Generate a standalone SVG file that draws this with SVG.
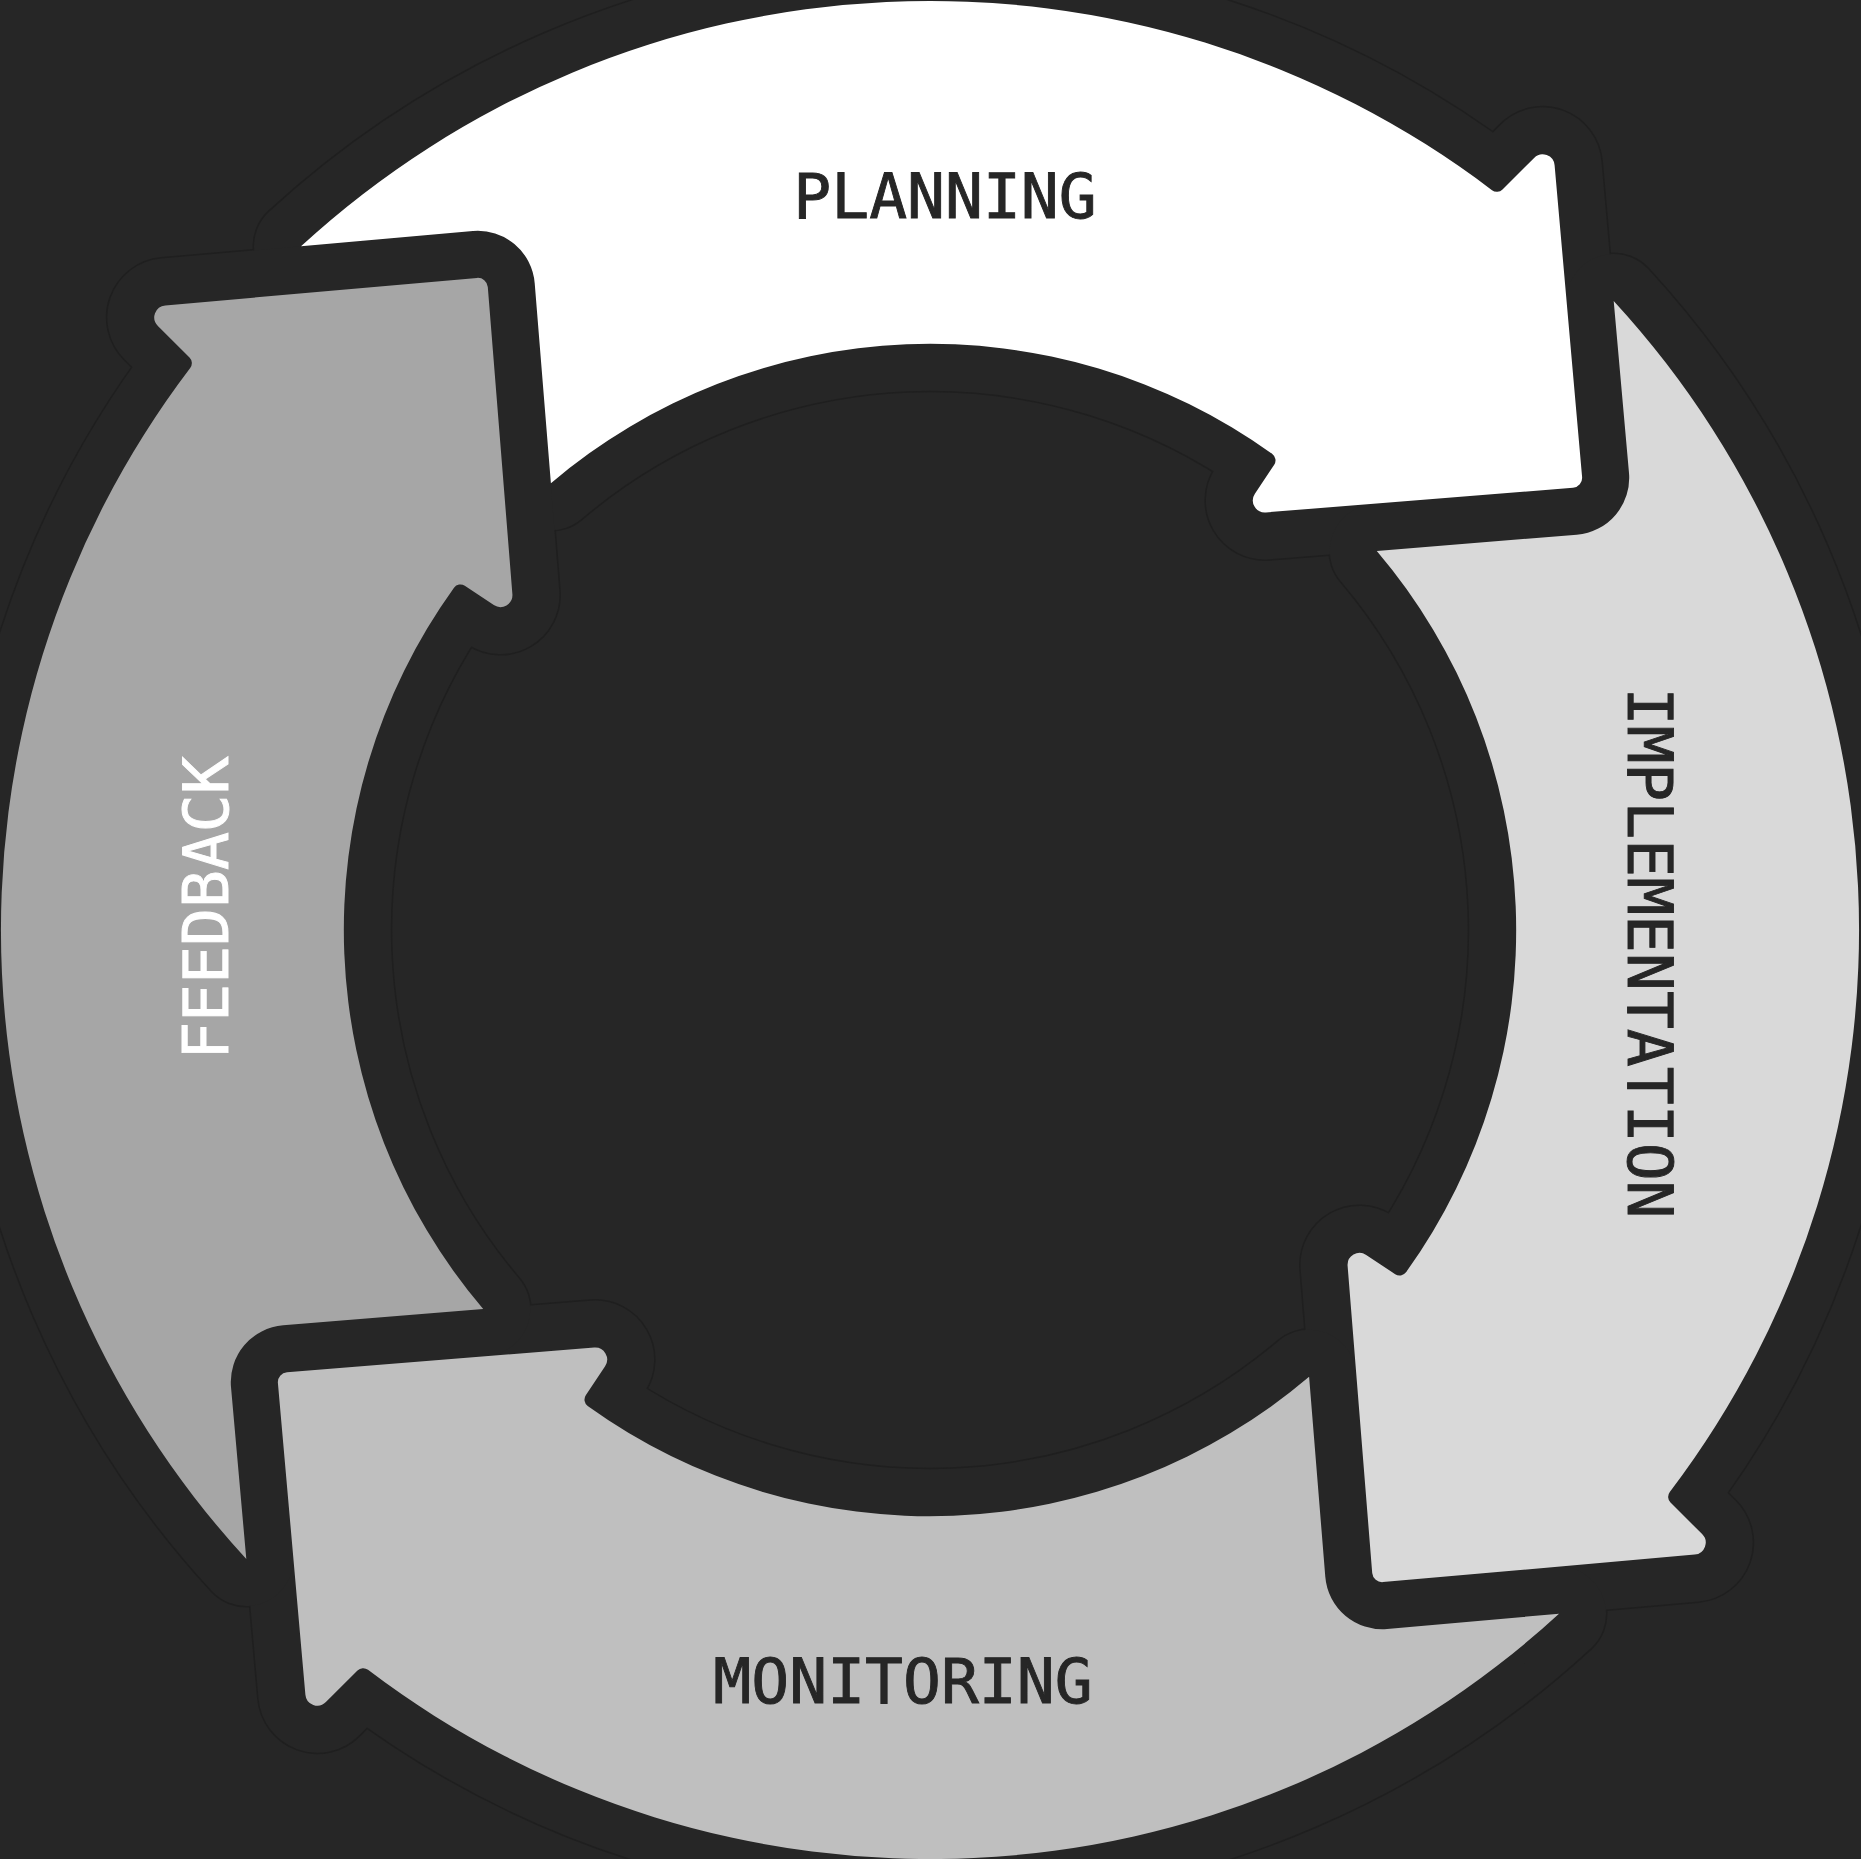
<svg xmlns="http://www.w3.org/2000/svg" width="1861" height="1859" viewBox="0 0 1861 1859">
  <style>
    .faint { fill: none; stroke: #1f1f1f; stroke-width: 97; stroke-linejoin: round; }
    .dark { fill: #262626; stroke: #262626; stroke-width: 94; stroke-linejoin: round; }
    .label { font-family: "DejaVu Sans Mono", "Liberation Mono", monospace; font-size: 63px; text-anchor: middle; stroke-width: 0.9px; }
    .ink { fill: #262626; stroke: #262626; }
    .inv { fill: #ffffff; stroke: #ffffff; }
  </style>
  <defs>
    <path id="arrowShape" d="M 301.0 246.3 A 929 929 0 0 1 1492.0 190.2 A 8 8 0 0 0 1502.5 189.5 L 1534.1 157.9 A 12 12 0 0 1 1554.6 165.3 L 1582.1 477.0 A 10 10 0 0 1 1573.0 487.8 L 1265.8 512.4 A 12 12 0 0 1 1254.9 493.8 L 1274.2 464.8 A 8 8 0 0 0 1272.3 454.0 A 586 586 0 0 0 550.9 483.2 L 534.7 283.2 A 57 57 0 0 0 472.9 231.0 Z"/>
  </defs>
  <rect x="0" y="0" width="1861" height="1859" fill="#262626"/>
  <g id="outlines">
    <use href="#arrowShape" class="faint"/>
    <use href="#arrowShape" class="faint" transform="rotate(90 930 930)"/>
    <use href="#arrowShape" class="faint" transform="rotate(180 930 930)"/>
    <use href="#arrowShape" class="faint" transform="rotate(270 930 930)"/>
    <use href="#arrowShape" class="dark"/>
    <use href="#arrowShape" class="dark" transform="rotate(90 930 930)"/>
    <use href="#arrowShape" class="dark" transform="rotate(180 930 930)"/>
    <use href="#arrowShape" class="dark" transform="rotate(270 930 930)"/>
  </g>
  <g id="planning">
    <use href="#arrowShape" fill="#ffffff"/>
    <text class="label ink" x="945" y="218">PLANNING</text>
  </g>
  <g id="implementation">
    <use href="#arrowShape" fill="#d9d9d9" transform="rotate(90 930 930)"/>
    <text class="label ink" transform="translate(1628 953) rotate(90)">IMPLEMENTATION</text>
  </g>
  <g id="monitoring">
    <use href="#arrowShape" fill="#bfbfbf" transform="rotate(180 930 930)"/>
    <text class="label ink" x="903" y="1703">MONITORING</text>
  </g>
  <g id="feedback">
    <use href="#arrowShape" fill="#a6a6a6" transform="rotate(270 930 930)"/>
    <text class="label inv" transform="translate(228 908) rotate(-90)">FEEDBACK</text>
  </g>
</svg>
